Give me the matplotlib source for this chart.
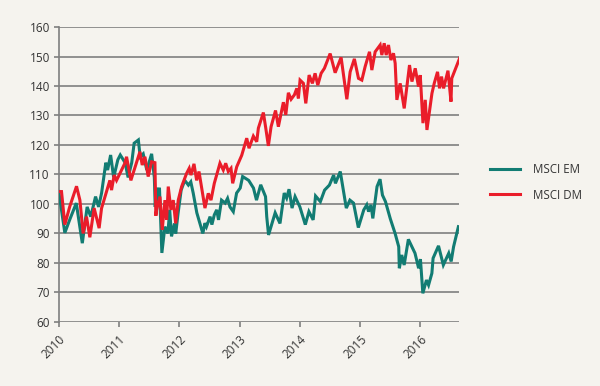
import matplotlib
matplotlib.use("Agg")
import matplotlib.pyplot as plt

# time as decimal years, values are index levels
em_t = [2010.00, 2010.10, 2010.18, 2010.29, 2010.39, 2010.47, 2010.53, 2010.61, 2010.66, 2010.71,
        2010.78, 2010.81, 2010.86, 2010.91, 2010.98, 2011.02, 2011.10, 2011.15, 2011.21, 2011.25,
        2011.32, 2011.35, 2011.40, 2011.46, 2011.54, 2011.585, 2011.60, 2011.62, 2011.645, 2011.67,
        2011.71, 2011.76, 2011.81, 2011.84, 2011.87, 2011.92, 2011.94, 2011.98, 2012.03, 2012.09,
        2012.15, 2012.19, 2012.23, 2012.29, 2012.39, 2012.425, 2012.45, 2012.51, 2012.54, 2012.58,
        2012.62, 2012.65, 2012.70, 2012.76, 2012.80, 2012.84, 2012.895, 2012.95, 2013.01, 2013.05,
        2013.15, 2013.23, 2013.28, 2013.35, 2013.43, 2013.45, 2013.48, 2013.59, 2013.67, 2013.74,
        2013.78, 2013.82, 2013.87, 2013.92, 2014.00, 2014.09, 2014.15, 2014.22, 2014.26, 2014.34,
        2014.41, 2014.49, 2014.56, 2014.59, 2014.67, 2014.77, 2014.83, 2014.89, 2014.97, 2015.06,
        2015.11, 2015.14, 2015.18, 2015.21, 2015.28, 2015.33, 2015.37, 2015.42, 2015.50, 2015.58,
        2015.64, 2015.65, 2015.69, 2015.73, 2015.80, 2015.91, 2015.97, 2016.00, 2016.04, 2016.10,
        2016.135, 2016.19, 2016.21, 2016.30, 2016.38, 2016.47, 2016.51, 2016.55, 2016.63]
em_v = [104.2, 90.2, 94.6, 100.3, 86.7, 99.0, 95.7, 102.5, 99.0, 103.7,
        114.0, 111.5, 116.6, 109.0, 115.0, 116.6, 114.0, 109.0, 114.0, 120.6,
        121.7, 116.0, 117.0, 111.5, 117.0, 109.0, 99.0, 105.5, 101.0, 105.5,
        83.4, 92.3, 90.0, 98.0, 89.0, 93.4, 90.0, 97.0, 104.7, 108.0,
        106.4, 107.5, 103.7, 97.0, 90.0, 93.5, 92.3, 95.7, 93.0, 96.3,
        98.0, 94.6, 101.3, 100.3, 101.9, 99.0, 97.4, 103.7, 105.4, 109.3,
        108.0, 105.4, 101.3, 106.5, 102.5, 95.7, 89.5, 97.0, 93.4, 103.7,
        102.0, 105.0, 98.6, 102.5, 99.0, 93.0, 97.4, 94.6, 102.7, 100.8,
        104.7, 106.4, 109.8, 107.0, 111.0, 98.6, 101.3, 100.3, 92.0, 98.0,
        99.7, 97.4, 99.7, 95.1, 105.9, 108.4, 103.0, 100.8, 95.0, 90.0,
        85.5, 78.2, 82.7, 79.3, 88.0, 83.3, 78.2, 81.3, 69.7, 74.2,
        72.5, 76.5, 81.6, 85.8, 79.3, 83.3, 80.5, 85.5, 92.3]

dm_t = [2010.00, 2010.045, 2010.10, 2010.18, 2010.294, 2010.35, 2010.404, 2010.46, 2010.515, 2010.586,
        2010.669, 2010.709, 2010.847, 2010.875, 2010.919, 2010.958, 2011.096, 2011.124, 2011.196, 2011.346,
        2011.384, 2011.429, 2011.483, 2011.54, 2011.595, 2011.61, 2011.623, 2011.678, 2011.716, 2011.761,
        2011.789, 2011.816, 2011.86, 2011.899, 2011.939, 2011.982, 2012.038, 2012.121, 2012.164, 2012.193,
        2012.243, 2012.287, 2012.326, 2012.425, 2012.48, 2012.525, 2012.58, 2012.674, 2012.729, 2012.769,
        2012.812, 2012.857, 2012.885, 2012.952, 2013.035, 2013.118, 2013.156, 2013.228, 2013.284, 2013.311,
        2013.394, 2013.434, 2013.477, 2013.522, 2013.596, 2013.643, 2013.726, 2013.766, 2013.809, 2013.854,
        2013.909, 2013.949, 2013.975, 2014.003, 2014.058, 2014.098, 2014.153, 2014.208, 2014.252, 2014.297,
        2014.352, 2014.407, 2014.502, 2014.585, 2014.684, 2014.779, 2014.834, 2014.904, 2014.972, 2015.028,
        2015.083, 2015.155, 2015.194, 2015.249, 2015.332, 2015.36, 2015.399, 2015.432, 2015.47, 2015.51,
        2015.553, 2015.581, 2015.609, 2015.664, 2015.731, 2015.819, 2015.859, 2015.914, 2015.968, 2015.997,
        2016.042, 2016.08, 2016.108, 2016.191, 2016.229, 2016.284, 2016.317, 2016.35, 2016.384, 2016.457,
        2016.507, 2016.52, 2016.65]
dm_v = [104.2, 104.2, 93.0, 99.0, 106.0, 101.3, 90.0, 95.7, 88.7, 98.6,
        91.8, 98.5, 108.0, 104.7, 109.8, 108.0, 113.8, 116.0, 108.0, 117.7,
        113.2, 116.0, 109.3, 114.3, 114.0, 96.0, 98.0, 102.5, 91.2, 101.3,
        94.6, 105.9, 98.0, 101.3, 93.4, 101.3, 105.9, 110.4, 112.1, 109.8,
        113.6, 108.0, 111.0, 98.6, 103.6, 101.3, 107.0, 113.8, 111.5, 113.8,
        111.0, 112.1, 107.0, 112.6, 116.5, 122.3, 118.9, 123.0, 121.1, 125.7,
        131.0, 125.7, 119.7, 126.2, 131.7, 126.2, 134.5, 130.2, 137.7, 135.5,
        137.0, 139.2, 135.8, 142.0, 140.9, 134.1, 143.7, 140.9, 144.3, 140.3,
        144.3, 146.0, 151.0, 144.5, 149.7, 135.5, 144.8, 149.2, 142.6, 142.0,
        146.6, 151.6, 145.4, 151.6, 153.9, 150.5, 154.5, 150.5, 153.9, 148.8,
        151.1, 147.7, 135.3, 140.9, 132.4, 147.1, 141.5, 146.0, 139.8, 143.7,
        127.4, 135.3, 125.1, 137.5, 140.9, 144.8, 139.2, 143.2, 139.2, 145.2,
        134.7, 142.6, 149.4]

years = [2010, 2011, 2012, 2013, 2014, 2015, 2016]
y_ticks = [60, 70, 80, 90, 100, 110, 120, 130, 140, 150, 160]

bg = "#f5f3ee"
teal = "#127c73"
red = "#ea1d2a"
grid_col = "#7f7f7f"
txt = "#333333"

plt.rcParams['font.family'] = ['Open Sans', 'DejaVu Sans']

fig = plt.figure(figsize=(6, 3.86), dpi=100, facecolor=bg)
ax = fig.add_axes([0.098, 0.166, 0.667, 0.764])
ax.set_facecolor(bg)

for y in y_ticks:
    ax.axhline(y, color=grid_col, lw=1.2, zorder=1)

ax.plot(em_t, em_v, color=teal, lw=2.2, label="MSCI EM", zorder=3, solid_joinstyle='miter')
ax.plot(dm_t, dm_v, color=red, lw=2.2, label="MSCI DM", zorder=3, solid_joinstyle='miter')

ax.set_xlim(2010, 2016.64)
ax.set_ylim(60, 160)
ax.set_yticks(y_ticks)
ax.set_xticks(years)
ax.set_xticklabels([str(y) for y in years], rotation=45, ha='right', rotation_mode='anchor')

for s in ['top', 'right', 'bottom']:
    ax.spines[s].set_visible(False)
ax.spines['left'].set_color(grid_col)
ax.spines['left'].set_linewidth(1.2)
ax.tick_params(axis='both', colors=grid_col, labelcolor=txt, labelsize=8.5, width=1.2)
ax.tick_params(axis='y', length=3.5, pad=3)
ax.tick_params(axis='x', length=3.5, pad=4)

leg = fig.legend(loc='upper left', bbox_to_anchor=(0.8, 0.605), frameon=False,
                 fontsize=8.3, handlelength=2.6, labelspacing=1.1, handletextpad=1.1,
                 labelcolor=txt)
for line in leg.get_lines():
    line.set_linewidth(2.2)

fig.savefig("out.png", dpi=100, facecolor=bg)
